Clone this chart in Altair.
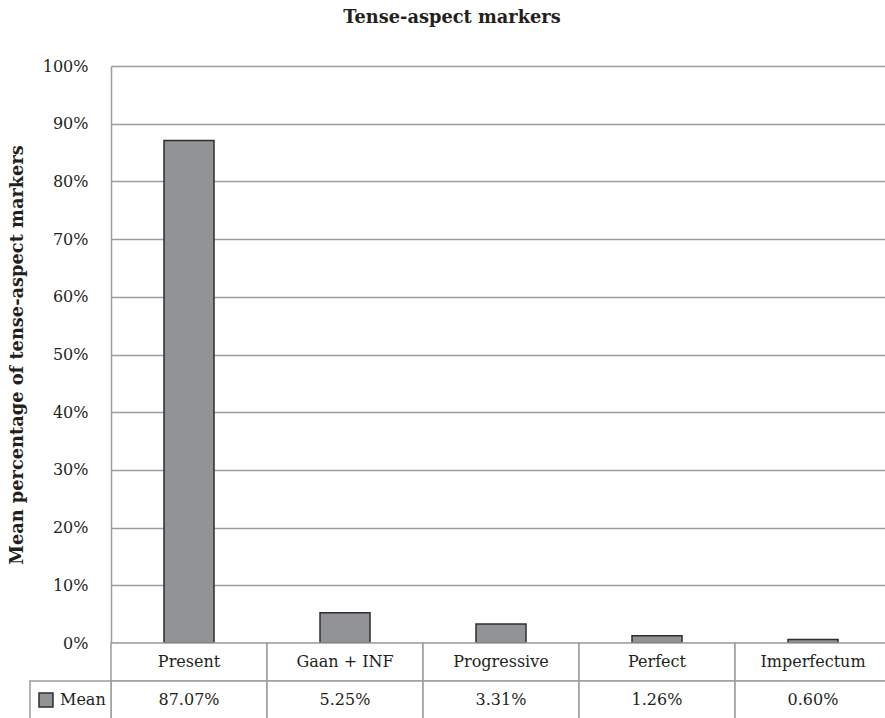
import altair as alt
import pandas as pd

# Mean share of each tense-aspect marker
categories = ["Present", "Gaan + INF", "Progressive", "Perfect", "Imperfectum"]
mean_share = [0.8707, 0.0525, 0.0331, 0.0126, 0.0060]
series_name = "Mean"
y_ticks = [0.0, 0.1, 0.2, 0.3, 0.4, 0.5, 0.6, 0.7, 0.8, 0.9, 1.0]

df = pd.DataFrame({
    "category": categories,
    "value": mean_share,
    "series": [series_name] * len(categories),
    "label": [f"{v:.2%}" for v in mean_share],
})

# styling / layout
FONT = "DejaVu Serif"
TEXT = "#231f20"
GRID = "#9c9c9c"
BAR_FILL = "#929396"
BAR_EDGE = "#2e2e2e"
PLOT_W = 774          # visible plot width
BAND_SPAN = 780       # five 156px columns
PLOT_H = 577
ROW_H = 38
KEY_W = 81            # width of the legend cell in the data table

x_enc = alt.X(
    "category:N",
    scale=alt.Scale(domain=categories, range=[0, BAND_SPAN], paddingInner=0, paddingOuter=0),
    axis=None,
)

bars = alt.Chart(df).mark_bar(size=50, stroke=BAR_EDGE, strokeWidth=1.5).encode(
    x=x_enc,
    y=alt.Y(
        "value:Q",
        scale=alt.Scale(domain=[0, 1], nice=False),
        axis=alt.Axis(
            values=y_ticks,
            format=".0%",
            grid=True,
            gridColor=GRID,
            gridWidth=1.5,
            ticks=False,
            tickSize=0,
            domain=True,
            domainColor=GRID,
            domainWidth=1.5,
            labelPadding=23,
            labelFont=FONT,
            labelFontSize=16,
            labelColor=TEXT,
            title="Mean percentage of tense-aspect markers",
            titleFont=FONT,
            titleFontSize=17.8,
            titleFontWeight="bold",
            titleColor=TEXT,
            titlePadding=16,
        ),
    ),
    color=alt.Color(
        "series:N",
        scale=alt.Scale(domain=[series_name], range=[BAR_FILL]),
        legend=alt.Legend(
            orient="none",
            legendX=-73,
            legendY=626,
            title=None,
            padding=0,
            symbolType="square",
            symbolSize=196,
            symbolStrokeColor=BAR_EDGE,
            symbolStrokeWidth=1.5,
            labelFont=FONT,
            labelFontSize=16,
            labelColor=TEXT,
            labelOffset=6,
        ),
    ),
)

# data table under the plot: category row and value row
cell_style = dict(fill="white", stroke=GRID, strokeWidth=1.5)
row1_cells = alt.Chart(df).mark_rect(**cell_style).encode(
    x=x_enc, y=alt.value(PLOT_H), y2=alt.value(PLOT_H + ROW_H)
)
row2_cells = alt.Chart(df).mark_rect(**cell_style).encode(
    x=x_enc, y=alt.value(PLOT_H + ROW_H), y2=alt.value(PLOT_H + 2 * ROW_H)
)
key_cell = alt.Chart(pd.DataFrame({"series": [series_name]})).mark_rect(**cell_style).encode(
    x=alt.value(-KEY_W), x2=alt.value(0),
    y=alt.value(PLOT_H + ROW_H), y2=alt.value(PLOT_H + 2 * ROW_H),
)
text_style = dict(font=FONT, fontSize=16, color=TEXT, baseline="middle", align="center")
row1_text = alt.Chart(df).mark_text(**text_style).encode(
    x=x_enc, y=alt.value(PLOT_H + ROW_H / 2), text="category:N"
)
row2_text = alt.Chart(df).mark_text(**text_style).encode(
    x=x_enc, y=alt.value(PLOT_H + 1.5 * ROW_H), text="label:N"
)

chart = (
    alt.layer(bars, row1_cells, row2_cells, key_cell, row1_text, row2_text)
    .properties(
        width=PLOT_W,
        height=PLOT_H,
        autosize=alt.AutoSizeParams(type="none"),
        padding={"left": 111, "top": 66, "right": 0, "bottom": 75},
        title=alt.TitleParams(
            "Tense-aspect markers",
            font=FONT,
            fontSize=17.8,
            fontWeight="bold",
            color=TEXT,
            anchor="middle",
            frame="group",
            dx=-46,
            offset=31,
        ),
    )
    .configure_view(stroke="transparent")
    .configure(background="white")
)

chart.save("out.html", embed_options={"renderer": "svg", "actions": False})
